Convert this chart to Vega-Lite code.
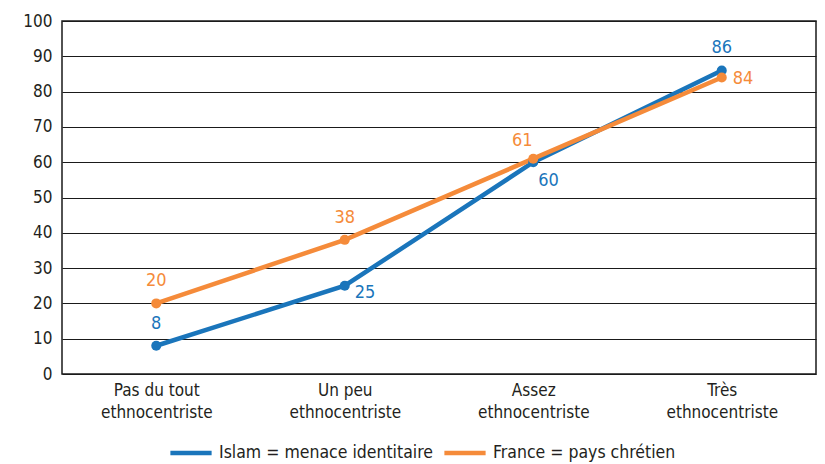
{
  "$schema": "https://vega.github.io/schema/vega-lite/v6.json",
  "width": 754,
  "height": 353,
  "autosize": {"type": "none"},
  "padding": {"left": 62, "top": 21, "right": 9, "bottom": 90},
  "background": "white",
  "config": {
    "font": "'Liberation Sans Narrow', 'Arial Narrow', 'DejaVu Sans Condensed', 'Roboto Condensed', Roboto, sans-serif",
    "view": {"stroke": "#1a1a1a", "strokeWidth": 1.5},
    "text": {"font": "'Liberation Sans Narrow', 'Arial Narrow', 'DejaVu Sans Condensed', 'Roboto Condensed', Roboto, sans-serif"},
    "axis": {"labelFont": "'Liberation Sans Narrow', 'Arial Narrow', 'DejaVu Sans Condensed', 'Roboto Condensed', Roboto, sans-serif", "labelFontSize": 17, "labelColor": "#231f20"},
    "legend": {"labelFont": "'Liberation Sans Narrow', 'Arial Narrow', 'DejaVu Sans Condensed', 'Roboto Condensed', Roboto, sans-serif"}
  },
  "data": {
    "values": [
      {"cat": "Pas du tout ethnocentriste", "series": "Islam = menace identitaire", "value": 8},
      {"cat": "Un peu ethnocentriste", "series": "Islam = menace identitaire", "value": 25},
      {"cat": "Assez ethnocentriste", "series": "Islam = menace identitaire", "value": 60},
      {"cat": "Très ethnocentriste", "series": "Islam = menace identitaire", "value": 86},
      {"cat": "Pas du tout ethnocentriste", "series": "France = pays chrétien", "value": 20},
      {"cat": "Un peu ethnocentriste", "series": "France = pays chrétien", "value": 38},
      {"cat": "Assez ethnocentriste", "series": "France = pays chrétien", "value": 61},
      {"cat": "Très ethnocentriste", "series": "France = pays chrétien", "value": 84}
    ]
  },
  "encoding": {
    "x": {
      "field": "cat", "type": "nominal", "sort": null,
      "scale": {"type": "point", "padding": 0.5},
      "axis": {
        "title": null, "labelAngle": 0, "domain": false, "ticks": false,
        "labelPadding": 8, "labelLineHeight": 22, "labelFontSize": 17,
        "labelExpr": "[replace(datum.label, ' ethnocentriste', ''), 'ethnocentriste']"
      }
    },
    "y": {
      "field": "value", "type": "quantitative",
      "scale": {"domain": [0, 100], "nice": false},
      "axis": {
        "title": null, "values": [0,10,20,30,40,50,60,70,80,90,100],
        "grid": true, "gridColor": "#1a1a1a", "gridWidth": 1.2, "gridOpacity": 1,
        "domain": false, "ticks": false, "labelPadding": 10
      }
    },
    "color": {
      "field": "series", "type": "nominal",
      "scale": {
        "domain": ["Islam = menace identitaire", "France = pays chrétien"],
        "range": ["#1a75bb", "#f58b3a"]
      },
      "legend": null
    }
  },
  "layer": [
    {
      "mark": {"type": "line", "strokeWidth": 4.5},
      "encoding": {
        "color": {
          "field": "series", "type": "nominal",
          "scale": {
            "domain": ["Islam = menace identitaire", "France = pays chrétien"],
            "range": ["#1a75bb", "#f58b3a"]
          },
          "legend": {
            "title": null, "orient": "none", "direction": "horizontal",
            "legendX": 106, "legendY": 409,
            "symbolType": "stroke", "symbolStrokeWidth": 4.5, "symbolSize": 1700,
            "labelFontSize": 17.5, "labelColor": "#231f20", "labelLimit": 400,
            "labelOffset": 5, "columnPadding": 2, "symbolOffset": 0, "padding": 0, "offset": 0
          }
        }
      }
    },
    {
      "mark": {"type": "point", "filled": true, "size": 100, "opacity": 1}
    },
    {
      "transform": [{"filter": "(datum.series == 'Islam = menace identitaire' && (datum.value == 8 || datum.value == 86)) || (datum.series == 'France = pays chrétien' && (datum.value == 20 || datum.value == 38))"}],
      "mark": {"type": "text", "fontSize": 18, "dy": -22, "align": "center"},
      "encoding": {"text": {"field": "value", "type": "quantitative"}}
    },
    {
      "transform": [{"filter": "datum.series == 'France = pays chrétien' && datum.value == 61"}],
      "mark": {"type": "text", "fontSize": 18, "dy": -18, "dx": -11, "align": "center"},
      "encoding": {"text": {"field": "value", "type": "quantitative"}}
    },
    {
      "transform": [{"filter": "datum.series == 'Islam = menace identitaire' && datum.value == 25"}],
      "mark": {"type": "text", "fontSize": 18, "dy": 7, "dx": 10, "align": "left"},
      "encoding": {"text": {"field": "value", "type": "quantitative"}}
    },
    {
      "transform": [{"filter": "datum.series == 'Islam = menace identitaire' && datum.value == 60"}],
      "mark": {"type": "text", "fontSize": 18, "dy": 19, "dx": 5, "align": "left"},
      "encoding": {"text": {"field": "value", "type": "quantitative"}}
    },
    {
      "transform": [{"filter": "datum.series == 'France = pays chrétien' && datum.value == 84"}],
      "mark": {"type": "text", "fontSize": 18, "dy": 2, "dx": 11, "align": "left"},
      "encoding": {"text": {"field": "value", "type": "quantitative"}}
    }
  ]
}
